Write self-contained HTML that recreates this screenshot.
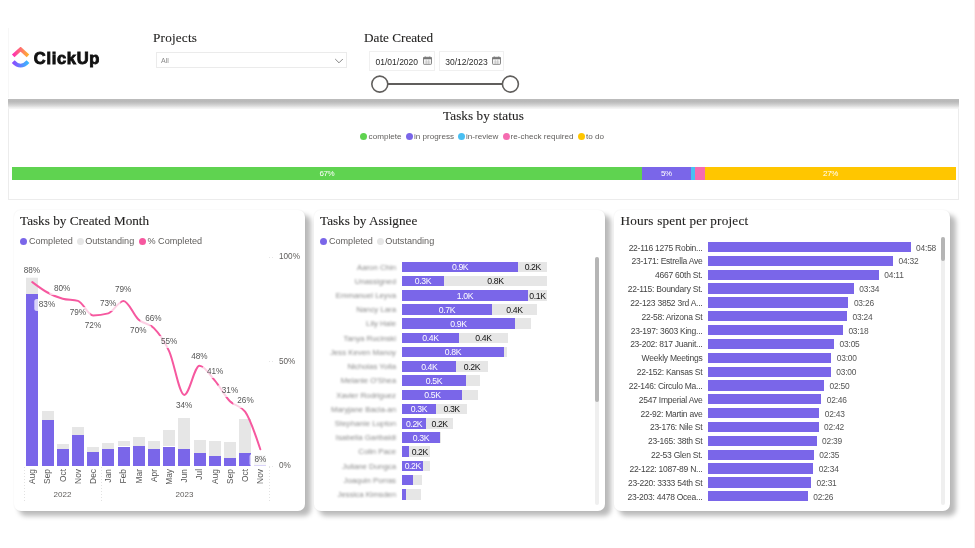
<!DOCTYPE html>
<html lang="en"><head><meta charset="utf-8"><title>ClickUp Dashboard</title>
<style>
*{box-sizing:border-box;margin:0;padding:0}
html,body{width:975px;height:548px;overflow:hidden;background:#fff}
body{position:relative;font-family:"Liberation Sans",sans-serif;color:#333}
.abs{position:absolute}
.t{position:absolute;white-space:nowrap;line-height:1}
.serif{font-family:"Liberation Serif",serif;color:#252423;-webkit-text-stroke:.1px #252423}
.card{position:absolute;background:#fff;border-radius:7px;box-shadow:5.5px 5px 5px 0 rgba(0,0,0,.27),0 0 2px rgba(0,0,0,.07)}
.dot{position:absolute;width:7px;height:7px;border-radius:50%}
.lg{position:absolute;white-space:nowrap;line-height:1;font-size:9.1px;color:#605e5c}
.dl{position:absolute;white-space:nowrap;line-height:1;font-size:8.2px;color:#555;background:rgba(255,255,255,.72);border-radius:2.5px;padding:2px 4.5px;transform:translate(-50%,-50%)}
.bar{position:absolute}
.nm{position:absolute;white-space:nowrap;line-height:1;font-size:7.8px;color:#8a8a8a;text-align:right;filter:blur(1px)}
.cl{position:absolute;white-space:nowrap;line-height:1;font-size:8.5px;letter-spacing:-.25px;color:#444;text-align:right}
.vl{position:absolute;white-space:nowrap;line-height:1;font-size:8.4px;letter-spacing:-.2px;color:#555}
.bl{position:absolute;white-space:nowrap;line-height:1;font-size:8.7px;letter-spacing:-.4px;transform:translateX(-50%)}
.mx{position:absolute;white-space:nowrap;line-height:1;font-size:8.4px;color:#555;transform-origin:0 0;transform:rotate(-90deg)}
</style></head><body>

<div class="abs" style="left:8px;top:28px;width:951px;height:70px;border-left:1px solid #f7f7f7;background:#fff"></div>
<div class="abs" style="left:8px;top:98.6px;width:951px;height:9.4px;background:linear-gradient(#bcbcbc 0%,#b8b8b8 25%,#c6c6c6 50%,#dcdcdc 78%,#f2f2f2 100%)"></div>
<svg class="abs" style="left:10.7px;top:47.1px" width="20" height="22" viewBox="0 0 20 22">
<defs><linearGradient id="lg1" x1="0" y1="0" x2="1" y2="0"><stop offset="0" stop-color="#FF2FB4"/><stop offset="1" stop-color="#FFB02E"/></linearGradient>
<linearGradient id="lg2" x1="0" y1="0" x2="1" y2="0"><stop offset="0" stop-color="#8A4BFF"/><stop offset="1" stop-color="#39B8FF"/></linearGradient></defs>
<path d="M2.2 8.8 L9.6 2.2 L17 8.8" fill="none" stroke="url(#lg1)" stroke-width="3.8" stroke-linejoin="miter"/>
<path d="M2.2 14.6 Q9.6 22.6 17 14.6" fill="none" stroke="url(#lg2)" stroke-width="3.8"/>
</svg>
<div class="t" style="left:33.8px;top:49.9px;font-size:16.5px;font-weight:700;color:#111;letter-spacing:.7px;-webkit-text-stroke:.9px #111">ClickUp</div>
<div class="t serif" style="left:153px;top:31px;font-size:13.2px;letter-spacing:.2px">Projects</div>
<div class="abs" style="left:156.4px;top:51.6px;width:190.4px;height:16.6px;border:1px solid #ebebeb;background:#fff"></div>
<div class="t" style="left:161px;top:57px;font-size:7px;color:#888">All</div>
<svg class="abs" style="left:334px;top:56.8px" width="10" height="8" viewBox="0 0 10 8"><path d="M1.2 2 L5 5.8 L8.8 2" fill="none" stroke="#777" stroke-width="0.9"/></svg>
<div class="t serif" style="left:364px;top:31px;font-size:13.2px">Date Created</div>
<div class="abs" style="left:369.4px;top:51.4px;width:65.4px;height:19.4px;border:1px solid #f0f0f0;background:#fff"></div>
<div class="t" style="left:375.5px;top:57.7px;font-size:8.5px;color:#2a2a2a">01/01/2020</div>
<svg class="abs" style="left:423px;top:55.9px" width="9" height="9" viewBox="0 0 9 9"><rect x=".5" y="1.3" width="8" height="7" rx=".6" fill="none" stroke="#777" stroke-width=".9"/><rect x=".5" y="1.3" width="8" height="2" fill="#777"/><path d="M2.4 .6V1.6M6.6 .6V1.6" stroke="#777" stroke-width=".9"/><path d="M1.6 5.2H7.4M1.6 6.8H7.4M3.3 3.6V8M5.7 3.6V8" stroke="#aaa" stroke-width=".5"/></svg>
<div class="abs" style="left:438.6px;top:51.4px;width:65.4px;height:19.4px;border:1px solid #f0f0f0;background:#fff"></div>
<div class="t" style="left:445.2px;top:57.7px;font-size:8.5px;color:#2a2a2a">30/12/2023</div>
<svg class="abs" style="left:492.2px;top:55.9px" width="9" height="9" viewBox="0 0 9 9"><rect x=".5" y="1.3" width="8" height="7" rx=".6" fill="none" stroke="#777" stroke-width=".9"/><rect x=".5" y="1.3" width="8" height="2" fill="#777"/><path d="M2.4 .6V1.6M6.6 .6V1.6" stroke="#777" stroke-width=".9"/><path d="M1.6 5.2H7.4M1.6 6.8H7.4M3.3 3.6V8M5.7 3.6V8" stroke="#aaa" stroke-width=".5"/></svg>
<svg class="abs" style="left:368px;top:72px" width="156" height="24" viewBox="0 0 156 24"><path d="M19.5 12H134.5" stroke="#605E5C" stroke-width="2.1"/><circle cx="11.8" cy="12.1" r="8" fill="#fff" stroke="#605E5C" stroke-width="1.6"/><circle cx="142.4" cy="12.1" r="8" fill="#fff" stroke="#605E5C" stroke-width="1.6"/></svg>
<div class="abs" style="left:8px;top:108px;width:951px;height:91.6px;border:1px solid #ececec;border-top-color:#f4f4f4;background:#fff"></div>
<div class="t serif" style="left:443px;top:109.2px;font-size:13.2px;letter-spacing:.08px">Tasks by status</div>
<div class="dot" style="left:360px;top:133.4px;background:#5FD350"></div>
<div class="lg" style="left:368.6px;top:133px;font-size:8.1px">complete</div>
<div class="dot" style="left:405.5px;top:133.4px;background:#7A66E9"></div>
<div class="lg" style="left:414px;top:133px;font-size:8.1px">in progress</div>
<div class="dot" style="left:457.5px;top:133.4px;background:#49BFF2"></div>
<div class="lg" style="left:466px;top:133px;font-size:8.1px">in-review</div>
<div class="dot" style="left:502.5px;top:133.4px;background:#F56BB0"></div>
<div class="lg" style="left:510.5px;top:133px;font-size:8.1px">re-check required</div>
<div class="dot" style="left:577.5px;top:133.4px;background:#FFC600"></div>
<div class="lg" style="left:586px;top:133px;font-size:8.1px">to do</div>
<div class="bar" style="left:12px;top:167px;width:629.8px;height:12.5px;background:#5FD350"></div>
<div class="bl" style="left:326.9px;top:169.5px;color:#fff;font-size:8px">67%</div>
<div class="bar" style="left:641.8px;top:167px;width:49.2px;height:12.5px;background:#7A66E9"></div>
<div class="bl" style="left:666.4px;top:169.5px;color:#fff;font-size:8px">5%</div>
<div class="bar" style="left:691px;top:167px;width:4.0px;height:12.5px;background:#49BFF2"></div>
<div class="bar" style="left:695px;top:167px;width:10.0px;height:12.5px;background:#F56BB0"></div>
<div class="bar" style="left:705px;top:167px;width:251.0px;height:12.5px;background:#FFC600"></div>
<div class="bl" style="left:830.5px;top:169.5px;color:#fff;font-size:8px">27%</div>
<div class="card" style="left:14px;top:210px;width:291px;height:301px"></div>
<div class="card" style="left:314px;top:210px;width:290.5px;height:301px"></div>
<div class="card" style="left:614px;top:210px;width:336px;height:301px"></div>
<div class="t serif" style="left:20px;top:214px;font-size:13.2px">Tasks by Created Month</div>
<div class="dot" style="left:20.3px;top:237.8px;background:#7A66E9"></div>
<div class="lg" style="left:28.9px;top:237.3px">Completed</div>
<div class="dot" style="left:76.8px;top:237.8px;background:#E6E6E6"></div>
<div class="lg" style="left:85.2px;top:237.3px">Outstanding</div>
<div class="dot" style="left:138.6px;top:237.8px;background:#F6589F"></div>
<div class="lg" style="left:147.5px;top:237.3px">% Completed</div>
<div class="lg" style="left:279px;top:253.1px;font-size:8.2px">100%</div>
<div class="lg" style="left:279px;top:357.6px;font-size:8.2px">50%</div>
<div class="lg" style="left:279px;top:462.1px;font-size:8.2px">0%</div>
<div class="abs" style="left:269px;top:256.5px;width:6px;height:1px;background:repeating-linear-gradient(90deg,#e6e6e6 0,#e6e6e6 1px,transparent 1px,transparent 3px)"></div>
<div class="abs" style="left:269px;top:361.0px;width:6px;height:1px;background:repeating-linear-gradient(90deg,#e6e6e6 0,#e6e6e6 1px,transparent 1px,transparent 3px)"></div>
<div class="abs" style="left:269px;top:465.5px;width:6px;height:1px;background:repeating-linear-gradient(90deg,#e6e6e6 0,#e6e6e6 1px,transparent 1px,transparent 3px)"></div>
<div class="bar" style="left:26.3px;top:277.2px;width:12px;height:16.4px;background:#E6E6E6"></div>
<div class="bar" style="left:26.3px;top:293.6px;width:12px;height:172.2px;background:#7A66E9"></div>
<div class="mx" style="left:28.1px;top:488.3px;width:19px;text-align:right">Aug</div>
<div class="bar" style="left:41.5px;top:410.7px;width:12px;height:9.5px;background:#E6E6E6"></div>
<div class="bar" style="left:41.5px;top:420.2px;width:12px;height:45.6px;background:#7A66E9"></div>
<div class="mx" style="left:43.3px;top:488.3px;width:19px;text-align:right">Sep</div>
<div class="bar" style="left:56.7px;top:444.2px;width:12px;height:4.6px;background:#E6E6E6"></div>
<div class="bar" style="left:56.7px;top:448.8px;width:12px;height:17.0px;background:#7A66E9"></div>
<div class="mx" style="left:58.5px;top:488.3px;width:19px;text-align:right">Oct</div>
<div class="bar" style="left:71.9px;top:426.8px;width:12px;height:8.2px;background:#E6E6E6"></div>
<div class="bar" style="left:71.9px;top:435.0px;width:12px;height:30.8px;background:#7A66E9"></div>
<div class="mx" style="left:73.7px;top:488.3px;width:19px;text-align:right">Nov</div>
<div class="bar" style="left:87.1px;top:447.1px;width:12px;height:4.9px;background:#E6E6E6"></div>
<div class="bar" style="left:87.1px;top:452.0px;width:12px;height:13.8px;background:#7A66E9"></div>
<div class="mx" style="left:88.9px;top:488.3px;width:19px;text-align:right">Dec</div>
<div class="bar" style="left:102.3px;top:442.9px;width:12px;height:6.2px;background:#E6E6E6"></div>
<div class="bar" style="left:102.3px;top:449.1px;width:12px;height:16.7px;background:#7A66E9"></div>
<div class="mx" style="left:104.1px;top:488.3px;width:19px;text-align:right">Jan</div>
<div class="bar" style="left:117.5px;top:441.2px;width:12px;height:5.3px;background:#E6E6E6"></div>
<div class="bar" style="left:117.5px;top:446.5px;width:12px;height:19.3px;background:#7A66E9"></div>
<div class="mx" style="left:119.3px;top:488.3px;width:19px;text-align:right">Feb</div>
<div class="bar" style="left:132.7px;top:437.0px;width:12px;height:8.5px;background:#E6E6E6"></div>
<div class="bar" style="left:132.7px;top:445.5px;width:12px;height:20.3px;background:#7A66E9"></div>
<div class="mx" style="left:134.5px;top:488.3px;width:19px;text-align:right">Mar</div>
<div class="bar" style="left:147.9px;top:440.6px;width:12px;height:8.8px;background:#E6E6E6"></div>
<div class="bar" style="left:147.9px;top:449.4px;width:12px;height:16.4px;background:#7A66E9"></div>
<div class="mx" style="left:149.7px;top:488.3px;width:19px;text-align:right">Apr</div>
<div class="bar" style="left:163.1px;top:430.4px;width:12px;height:16.1px;background:#E6E6E6"></div>
<div class="bar" style="left:163.1px;top:446.5px;width:12px;height:19.3px;background:#7A66E9"></div>
<div class="mx" style="left:164.9px;top:488.3px;width:19px;text-align:right">May</div>
<div class="bar" style="left:178.3px;top:418.2px;width:12px;height:31.2px;background:#E6E6E6"></div>
<div class="bar" style="left:178.3px;top:449.4px;width:12px;height:16.4px;background:#7A66E9"></div>
<div class="mx" style="left:180.1px;top:488.3px;width:19px;text-align:right">Jun</div>
<div class="bar" style="left:193.5px;top:439.6px;width:12px;height:13.8px;background:#E6E6E6"></div>
<div class="bar" style="left:193.5px;top:453.4px;width:12px;height:12.4px;background:#7A66E9"></div>
<div class="mx" style="left:195.3px;top:488.3px;width:19px;text-align:right">Jul</div>
<div class="bar" style="left:208.7px;top:441.2px;width:12px;height:14.5px;background:#E6E6E6"></div>
<div class="bar" style="left:208.7px;top:455.7px;width:12px;height:10.1px;background:#7A66E9"></div>
<div class="mx" style="left:210.5px;top:488.3px;width:19px;text-align:right">Aug</div>
<div class="bar" style="left:223.9px;top:441.9px;width:12px;height:16.1px;background:#E6E6E6"></div>
<div class="bar" style="left:223.9px;top:458.0px;width:12px;height:7.8px;background:#7A66E9"></div>
<div class="mx" style="left:225.7px;top:488.3px;width:19px;text-align:right">Sep</div>
<div class="bar" style="left:239.1px;top:418.9px;width:12px;height:34.5px;background:#E6E6E6"></div>
<div class="bar" style="left:239.1px;top:453.4px;width:12px;height:12.4px;background:#7A66E9"></div>
<div class="mx" style="left:240.9px;top:488.3px;width:19px;text-align:right">Oct</div>
<div class="bar" style="left:254.3px;top:455.0px;width:12px;height:9.8px;background:#E6E6E6"></div>
<div class="bar" style="left:254.3px;top:464.8px;width:12px;height:1.0px;background:#7A66E9"></div>
<div class="mx" style="left:256.1px;top:488.3px;width:19px;text-align:right">Nov</div>
<div class="lg" style="left:53.6px;top:490.8px;font-size:8px">2022</div>
<div class="lg" style="left:175.6px;top:490.8px;font-size:8px">2023</div>
<div class="abs" style="left:23.5px;top:467px;width:1px;height:36px;background:repeating-linear-gradient(#e2e2e2 0,#e2e2e2 1px,transparent 1px,transparent 3px)"></div>
<div class="abs" style="left:101px;top:467px;width:1px;height:36px;background:repeating-linear-gradient(#e2e2e2 0,#e2e2e2 1px,transparent 1px,transparent 3px)"></div>
<div class="abs" style="left:268.5px;top:467px;width:1px;height:36px;background:repeating-linear-gradient(#e2e2e2 0,#e2e2e2 1px,transparent 1px,transparent 3px)"></div>
<svg class="abs" style="left:0;top:200px" width="320" height="320" viewBox="0 200 320 320"><path d="M32.3 282.1 C37.4 285.9 42.4 289.7 47.5 292.5 C52.6 295.3 57.6 297.4 62.7 298.8 C67.8 300.2 72.8 299.5 77.9 300.9 C83.0 302.3 88.0 315.5 93.1 315.5 C98.2 315.5 103.2 314.8 108.3 313.4 C113.4 312.0 118.4 300.9 123.5 300.9 C128.6 300.9 133.6 315.2 138.7 319.7 C143.8 324.2 148.8 322.8 153.9 328.1 C159.0 333.3 164.0 339.9 169.1 351.1 C174.2 362.2 179.2 394.9 184.3 394.9 C189.4 394.9 194.4 365.7 199.5 365.7 C204.6 365.7 209.6 374.4 214.7 380.3 C219.8 386.2 224.8 396.0 229.9 401.2 C235.0 406.4 240.0 404.7 245.1 411.7 C250.2 418.6 255.2 434.0 260.3 449.3" fill="none" stroke="#F6589F" stroke-width="2" stroke-linecap="round" stroke-linejoin="round"/></svg>
<div class="dl" style="left:31.9px;top:271.4px">88%</div>
<div class="dl" style="left:47px;top:304.9px">83%</div>
<div class="dl" style="left:62.1px;top:288.8px">80%</div>
<div class="dl" style="left:77.9px;top:312.5px">79%</div>
<div class="dl" style="left:93px;top:326.3px">72%</div>
<div class="dl" style="left:108.1px;top:304.3px">73%</div>
<div class="dl" style="left:123.2px;top:290.2px">79%</div>
<div class="dl" style="left:138.3px;top:330.6px">70%</div>
<div class="dl" style="left:153.4px;top:319.1px">66%</div>
<div class="dl" style="left:169.2px;top:342.1px">55%</div>
<div class="dl" style="left:184.1px;top:405.9px">34%</div>
<div class="dl" style="left:199.4px;top:356.5px">48%</div>
<div class="dl" style="left:215.2px;top:371.6px">41%</div>
<div class="dl" style="left:230px;top:390.5px">31%</div>
<div class="dl" style="left:245.5px;top:401.3px">26%</div>
<div class="dl" style="left:260.3px;top:460.1px">8%</div>
<div class="t serif" style="left:320px;top:214px;font-size:13.2px">Tasks by Assignee</div>
<div class="dot" style="left:320.3px;top:237.8px;background:#7A66E9"></div>
<div class="lg" style="left:328.9px;top:237.3px">Completed</div>
<div class="dot" style="left:376.8px;top:237.8px;background:#E6E6E6"></div>
<div class="lg" style="left:385.2px;top:237.3px">Outstanding</div>
<div class="bar" style="left:402.2px;top:261.5px;width:145.2px;height:10.7px;background:#E6E6E6"></div>
<div class="bar" style="left:402.2px;top:261.5px;width:115.9px;height:10.7px;background:#7A66E9"></div>
<div class="nm" style="left:316px;width:80px;top:263.5px">Aaron Chin</div>
<div class="bl" style="left:460.1px;top:263.1px;color:#fff">0.9K</div>
<div class="bl" style="left:532.8px;top:263.1px;color:#111">0.2K</div>
<div class="bar" style="left:402.2px;top:275.7px;width:144.8px;height:10.7px;background:#E6E6E6"></div>
<div class="bar" style="left:402.2px;top:275.7px;width:41.7px;height:10.7px;background:#7A66E9"></div>
<div class="nm" style="left:316px;width:80px;top:277.7px">Unassigned</div>
<div class="bl" style="left:423.0px;top:277.3px;color:#fff">0.3K</div>
<div class="bl" style="left:495.4px;top:277.3px;color:#111">0.8K</div>
<div class="bar" style="left:402.2px;top:289.9px;width:144.8px;height:10.7px;background:#E6E6E6"></div>
<div class="bar" style="left:402.2px;top:289.9px;width:125.5px;height:10.7px;background:#7A66E9"></div>
<div class="nm" style="left:316px;width:80px;top:291.9px">Emmanuel Leyva</div>
<div class="bl" style="left:465.0px;top:291.5px;color:#fff">1.0K</div>
<div class="bl" style="left:537.4px;top:291.5px;color:#111">0.1K</div>
<div class="bar" style="left:402.2px;top:304.2px;width:135.0px;height:10.7px;background:#E6E6E6"></div>
<div class="bar" style="left:402.2px;top:304.2px;width:89.7px;height:10.7px;background:#7A66E9"></div>
<div class="nm" style="left:316px;width:80px;top:306.2px">Nancy Lara</div>
<div class="bl" style="left:447.0px;top:305.8px;color:#fff">0.7K</div>
<div class="bl" style="left:514.5px;top:305.8px;color:#111">0.4K</div>
<div class="bar" style="left:402.2px;top:318.4px;width:128.4px;height:10.7px;background:#E6E6E6"></div>
<div class="bar" style="left:402.2px;top:318.4px;width:112.6px;height:10.7px;background:#7A66E9"></div>
<div class="nm" style="left:316px;width:80px;top:320.4px">Lily Hale</div>
<div class="bl" style="left:458.5px;top:320.0px;color:#fff">0.9K</div>
<div class="bar" style="left:402.2px;top:332.6px;width:105.8px;height:10.7px;background:#E6E6E6"></div>
<div class="bar" style="left:402.2px;top:332.6px;width:56.5px;height:10.7px;background:#7A66E9"></div>
<div class="nm" style="left:316px;width:80px;top:334.6px">Tanya Rucinski</div>
<div class="bl" style="left:430.4px;top:334.2px;color:#fff">0.4K</div>
<div class="bl" style="left:483.4px;top:334.2px;color:#111">0.4K</div>
<div class="bar" style="left:402.2px;top:346.8px;width:104.8px;height:10.7px;background:#E6E6E6"></div>
<div class="bar" style="left:402.2px;top:346.8px;width:101.5px;height:10.7px;background:#7A66E9"></div>
<div class="nm" style="left:316px;width:80px;top:348.8px">Jess Keven Manoy</div>
<div class="bl" style="left:452.9px;top:348.4px;color:#fff">0.8K</div>
<div class="bar" style="left:402.2px;top:361.0px;width:85.4px;height:10.7px;background:#E6E6E6"></div>
<div class="bar" style="left:402.2px;top:361.0px;width:54.2px;height:10.7px;background:#7A66E9"></div>
<div class="nm" style="left:316px;width:80px;top:363.0px">Nicholas Yolla</div>
<div class="bl" style="left:429.3px;top:362.6px;color:#fff">0.4K</div>
<div class="bl" style="left:472.0px;top:362.6px;color:#111">0.2K</div>
<div class="bar" style="left:402.2px;top:375.3px;width:77.6px;height:10.7px;background:#E6E6E6"></div>
<div class="bar" style="left:402.2px;top:375.3px;width:63.5px;height:10.7px;background:#7A66E9"></div>
<div class="nm" style="left:316px;width:80px;top:377.3px">Melanie O'Shea</div>
<div class="bl" style="left:433.9px;top:376.9px;color:#fff">0.5K</div>
<div class="bar" style="left:402.2px;top:389.5px;width:76.3px;height:10.7px;background:#E6E6E6"></div>
<div class="bar" style="left:402.2px;top:389.5px;width:60.3px;height:10.7px;background:#7A66E9"></div>
<div class="nm" style="left:316px;width:80px;top:391.5px">Xavier Rodriguez</div>
<div class="bl" style="left:432.4px;top:391.1px;color:#fff">0.5K</div>
<div class="bar" style="left:402.2px;top:403.7px;width:65.2px;height:10.7px;background:#E6E6E6"></div>
<div class="bar" style="left:402.2px;top:403.7px;width:33.7px;height:10.7px;background:#7A66E9"></div>
<div class="nm" style="left:316px;width:80px;top:405.7px">Maryjane Bacla-an</div>
<div class="bl" style="left:419.0px;top:405.3px;color:#fff">0.3K</div>
<div class="bl" style="left:451.6px;top:405.3px;color:#111">0.3K</div>
<div class="bar" style="left:402.2px;top:417.9px;width:51.1px;height:10.7px;background:#E6E6E6"></div>
<div class="bar" style="left:402.2px;top:417.9px;width:23.8px;height:10.7px;background:#7A66E9"></div>
<div class="nm" style="left:316px;width:80px;top:419.9px">Stephanie Lupton</div>
<div class="bl" style="left:414.1px;top:419.5px;color:#fff">0.2K</div>
<div class="bl" style="left:439.6px;top:419.5px;color:#111">0.2K</div>
<div class="bar" style="left:402.2px;top:432.1px;width:38.8px;height:10.7px;background:#E6E6E6"></div>
<div class="bar" style="left:402.2px;top:432.1px;width:37.6px;height:10.7px;background:#7A66E9"></div>
<div class="nm" style="left:316px;width:80px;top:434.1px">Isabella Garibaldi</div>
<div class="bl" style="left:421.0px;top:433.7px;color:#fff">0.3K</div>
<div class="bar" style="left:402.2px;top:446.4px;width:28.1px;height:10.7px;background:#E6E6E6"></div>
<div class="bar" style="left:402.2px;top:446.4px;width:7.1px;height:10.7px;background:#7A66E9"></div>
<div class="nm" style="left:316px;width:80px;top:448.4px">Colin Pace</div>
<div class="bl" style="left:419.8px;top:448.0px;color:#111">0.2K</div>
<div class="bar" style="left:402.2px;top:460.6px;width:28.1px;height:10.7px;background:#E6E6E6"></div>
<div class="bar" style="left:402.2px;top:460.6px;width:21.2px;height:10.7px;background:#7A66E9"></div>
<div class="nm" style="left:316px;width:80px;top:462.6px">Juliane Dungca</div>
<div class="bl" style="left:412.8px;top:462.2px;color:#fff">0.2K</div>
<div class="bar" style="left:402.2px;top:474.8px;width:19.6px;height:10.7px;background:#E6E6E6"></div>
<div class="bar" style="left:402.2px;top:474.8px;width:10.4px;height:10.7px;background:#7A66E9"></div>
<div class="nm" style="left:316px;width:80px;top:476.8px">Joaquin Porras</div>
<div class="bar" style="left:402.2px;top:489.0px;width:18.9px;height:10.7px;background:#E6E6E6"></div>
<div class="bar" style="left:402.2px;top:489.0px;width:3.5px;height:10.7px;background:#7A66E9"></div>
<div class="nm" style="left:316px;width:80px;top:491.0px">Jessica Kimsden</div>
<div class="abs" style="left:594.8px;top:256.5px;width:4.6px;height:248.5px;background:#efefef;border-radius:2.3px"></div>
<div class="abs" style="left:594.8px;top:256.5px;width:4.6px;height:145.3px;background:#b5b5b5;border-radius:2.3px"></div>
<div class="t serif" style="left:620.5px;top:214px;font-size:13.2px;letter-spacing:.19px">Hours spent per project</div>
<div class="bar" style="left:708.2px;top:241.9px;width:202.5px;height:10.4px;background:#7A66E9"></div>
<div class="cl" style="left:612px;width:90.4px;top:243.5px">22-116 1275 Robin...</div>
<div class="vl" style="left:916.1px;top:243.5px">04:58</div>
<div class="bar" style="left:708.2px;top:255.7px;width:184.9px;height:10.4px;background:#7A66E9"></div>
<div class="cl" style="left:612px;width:90.4px;top:257.3px">23-171: Estrella Ave</div>
<div class="vl" style="left:898.5px;top:257.3px">04:32</div>
<div class="bar" style="left:708.2px;top:269.6px;width:170.7px;height:10.4px;background:#7A66E9"></div>
<div class="cl" style="left:612px;width:90.4px;top:271.2px">4667 60th St.</div>
<div class="vl" style="left:884.3px;top:271.2px">04:11</div>
<div class="bar" style="left:708.2px;top:283.4px;width:145.7px;height:10.4px;background:#7A66E9"></div>
<div class="cl" style="left:612px;width:90.4px;top:285.0px">22-115: Boundary St.</div>
<div class="vl" style="left:859.3px;top:285.0px">03:34</div>
<div class="bar" style="left:708.2px;top:297.3px;width:140.3px;height:10.4px;background:#7A66E9"></div>
<div class="cl" style="left:612px;width:90.4px;top:298.9px">22-123 3852 3rd A...</div>
<div class="vl" style="left:853.9px;top:298.9px">03:26</div>
<div class="bar" style="left:708.2px;top:311.1px;width:138.9px;height:10.4px;background:#7A66E9"></div>
<div class="cl" style="left:612px;width:90.4px;top:312.7px">22-58: Arizona St</div>
<div class="vl" style="left:852.5px;top:312.7px">03:24</div>
<div class="bar" style="left:708.2px;top:324.9px;width:134.8px;height:10.4px;background:#7A66E9"></div>
<div class="cl" style="left:612px;width:90.4px;top:326.5px">23-197: 3603 King...</div>
<div class="vl" style="left:848.4px;top:326.5px">03:18</div>
<div class="bar" style="left:708.2px;top:338.8px;width:126.0px;height:10.4px;background:#7A66E9"></div>
<div class="cl" style="left:612px;width:90.4px;top:340.4px">23-202: 817 Juanit...</div>
<div class="vl" style="left:839.6px;top:340.4px">03:05</div>
<div class="bar" style="left:708.2px;top:352.6px;width:123.2px;height:10.4px;background:#7A66E9"></div>
<div class="cl" style="left:612px;width:90.4px;top:354.2px">Weekly Meetings</div>
<div class="vl" style="left:836.8px;top:354.2px">03:00</div>
<div class="bar" style="left:708.2px;top:366.5px;width:122.7px;height:10.4px;background:#7A66E9"></div>
<div class="cl" style="left:612px;width:90.4px;top:368.1px">22-152: Kansas St</div>
<div class="vl" style="left:836.3px;top:368.1px">03:00</div>
<div class="bar" style="left:708.2px;top:380.3px;width:115.9px;height:10.4px;background:#7A66E9"></div>
<div class="cl" style="left:612px;width:90.4px;top:381.9px">22-146: Circulo Ma...</div>
<div class="vl" style="left:829.5px;top:381.9px">02:50</div>
<div class="bar" style="left:708.2px;top:394.1px;width:113.2px;height:10.4px;background:#7A66E9"></div>
<div class="cl" style="left:612px;width:90.4px;top:395.7px">2547 Imperial Ave</div>
<div class="vl" style="left:826.8px;top:395.7px">02:46</div>
<div class="bar" style="left:708.2px;top:408.0px;width:111.2px;height:10.4px;background:#7A66E9"></div>
<div class="cl" style="left:612px;width:90.4px;top:409.6px">22-92: Martin ave</div>
<div class="vl" style="left:824.8px;top:409.6px">02:43</div>
<div class="bar" style="left:708.2px;top:421.8px;width:110.5px;height:10.4px;background:#7A66E9"></div>
<div class="cl" style="left:612px;width:90.4px;top:423.4px">23-176: Nile St</div>
<div class="vl" style="left:824.1px;top:423.4px">02:42</div>
<div class="bar" style="left:708.2px;top:435.7px;width:108.4px;height:10.4px;background:#7A66E9"></div>
<div class="cl" style="left:612px;width:90.4px;top:437.3px">23-165: 38th St</div>
<div class="vl" style="left:822.0px;top:437.3px">02:39</div>
<div class="bar" style="left:708.2px;top:449.5px;width:105.7px;height:10.4px;background:#7A66E9"></div>
<div class="cl" style="left:612px;width:90.4px;top:451.1px">22-53 Glen St.</div>
<div class="vl" style="left:819.3px;top:451.1px">02:35</div>
<div class="bar" style="left:708.2px;top:463.3px;width:105.1px;height:10.4px;background:#7A66E9"></div>
<div class="cl" style="left:612px;width:90.4px;top:464.9px">22-122: 1087-89 N...</div>
<div class="vl" style="left:818.7px;top:464.9px">02:34</div>
<div class="bar" style="left:708.2px;top:477.2px;width:103.0px;height:10.4px;background:#7A66E9"></div>
<div class="cl" style="left:612px;width:90.4px;top:478.8px">23-220: 3333 54th St</div>
<div class="vl" style="left:816.6px;top:478.8px">02:31</div>
<div class="bar" style="left:708.2px;top:491.0px;width:99.6px;height:10.4px;background:#7A66E9"></div>
<div class="cl" style="left:612px;width:90.4px;top:492.6px">23-203: 4478 Ocea...</div>
<div class="vl" style="left:813.2px;top:492.6px">02:26</div>
<div class="abs" style="left:940.8px;top:237.3px;width:3.8px;height:268px;background:#efefef;border-radius:1.9px"></div>
<div class="abs" style="left:940.8px;top:237.3px;width:3.8px;height:23.5px;background:#b5b5b5;border-radius:1.9px"></div>
<div class="abs" style="left:974px;top:0;width:1px;height:548px;background:#fdeeee"></div>
</body></html>
